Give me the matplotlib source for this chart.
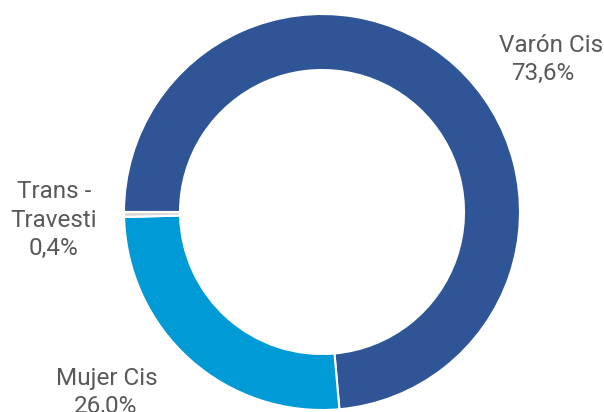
import matplotlib
matplotlib.use('Agg')
import matplotlib.pyplot as plt

# data
categories = ['Varón Cis', 'Mujer Cis', 'Trans -\nTravesti']
shares = [73.6, 26.0, 0.4]
share_labels = ['73,6%', '26,0%', '0,4%']
colors = ['#2F5597', '#009AD7', '#D9D9D9']

W, H = 604, 412
fig = plt.figure(figsize=(W / 100, H / 100), dpi=100)
ax = fig.add_axes([0, 0, 1, 1])

# donut, drawn in pixel-like data units
cx, cy, r = 322, H - 212, 198
ax.pie(shares, colors=colors, startangle=180, counterclock=False,
       center=(cx, cy), radius=r,
       wedgeprops=dict(width=56, edgecolor='white', linewidth=1.5))
ax.set_xlim(0, W)
ax.set_ylim(0, H)
ax.set_aspect('equal')
ax.axis('off')

txt = dict(fontfamily='Roboto', fontsize=17.5, color='#595959', ha='center', va='baseline')
# Varón Cis
ax.text(551, H - 52, categories[0], **txt)
ax.text(543, H - 80, share_labels[0], **txt)
# Trans - Travesti
ax.text(54, H - 198, 'Trans -', **txt)
ax.text(54, H - 227, 'Travesti', **txt)
ax.text(53, H - 255, share_labels[2], **txt)
# Mujer Cis
ax.text(107, H - 385, categories[1], **txt)
ax.text(106, H - 413, share_labels[1], **txt)

fig.savefig('out.png', dpi=100)
